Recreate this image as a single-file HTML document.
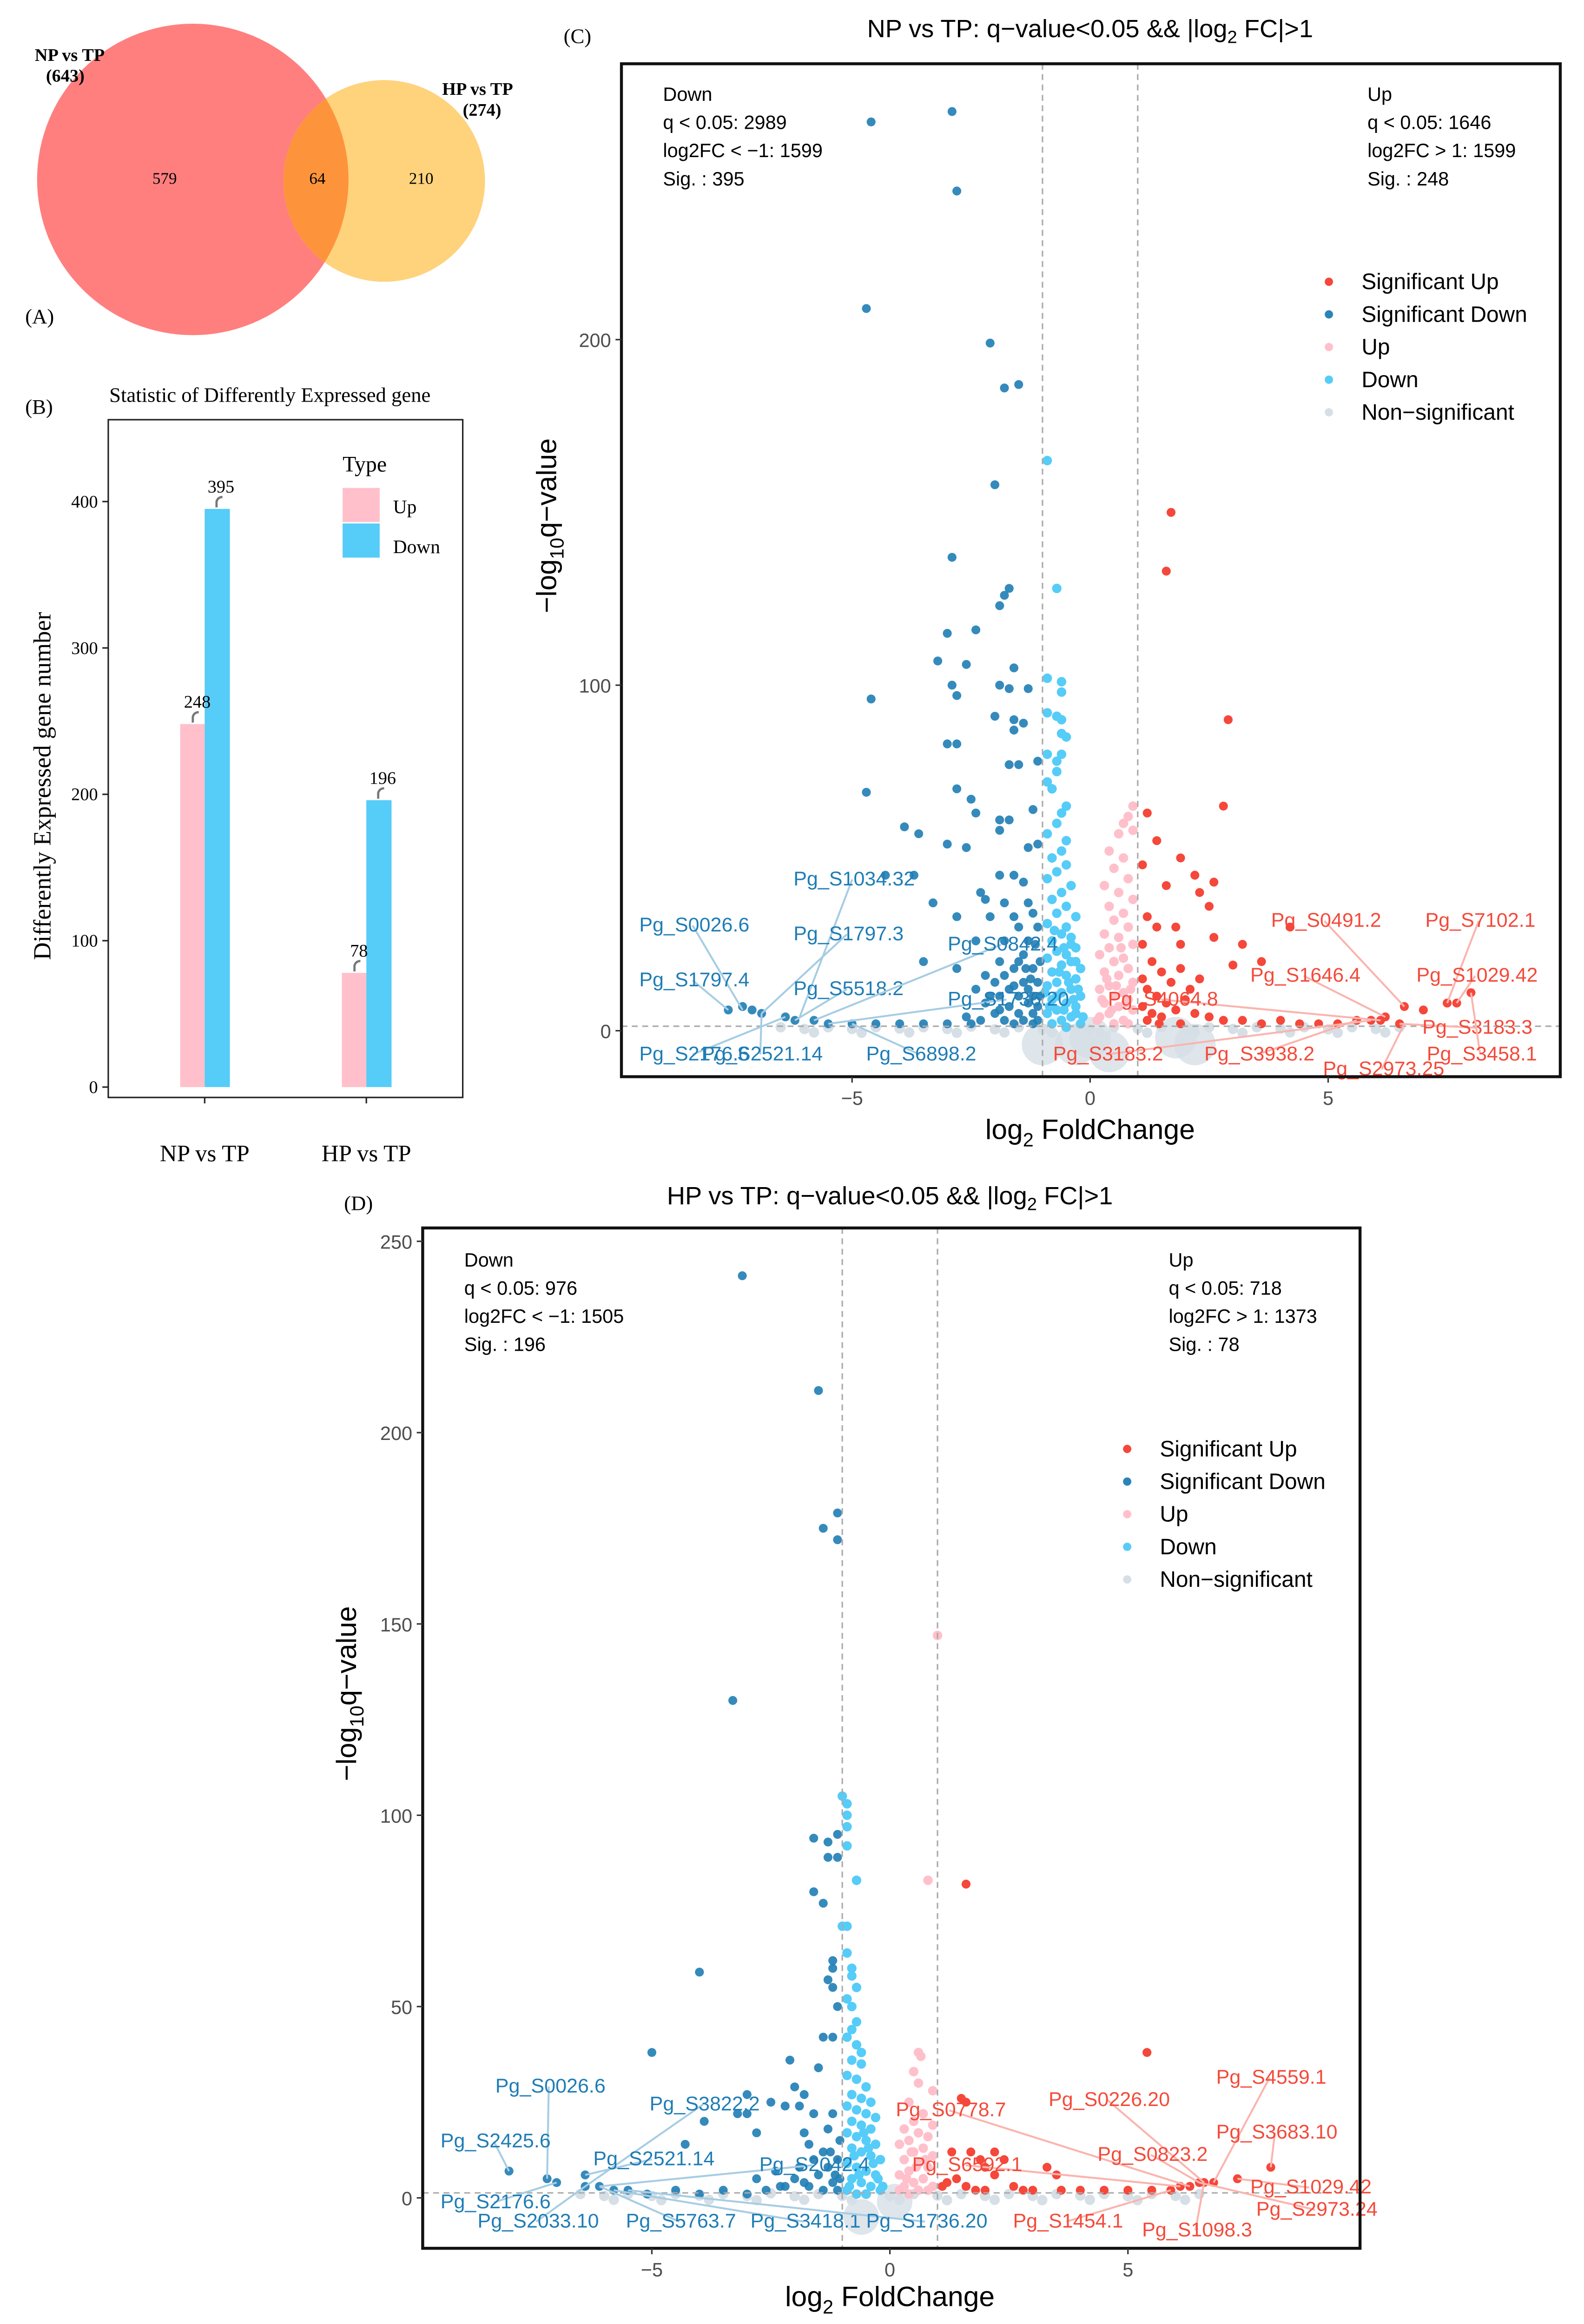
<!DOCTYPE html>
<html><head><meta charset="utf-8"><style>
html,body{margin:0;padding:0;background:#fff;width:3408px;height:5019px;overflow:hidden;position:relative}
svg{display:block;position:absolute;left:0;top:0}
text{font-family:"Liberation Sans",sans-serif}
.serif{font-family:"Liberation Serif",serif}
</style></head><body>
<svg id="fig" xmlns="http://www.w3.org/2000/svg" width="3408" height="5019" viewBox="0 0 1068 1573" preserveAspectRatio="none" overflow="hidden">
<defs>
<clipPath id="clipC"><rect x="419" y="43" width="633" height="683"/></clipPath>
<clipPath id="clipD"><rect x="285" y="828" width="632" height="688"/></clipPath>
<clipPath id="clipRed"><circle cx="130" cy="121" r="105"/></clipPath>
</defs>
<g>
<circle cx="130" cy="121" r="105" fill="#ff7f7f"/>
<circle cx="259" cy="122" r="68" fill="#ffd27c"/>
<circle cx="259" cy="122" r="68" fill="#fd943c" clip-path="url(#clipRed)"/>
<text class="serif" x="47" y="41" font-size="12" font-weight="bold" text-anchor="middle">NP vs TP</text>
<text class="serif" x="44" y="55" font-size="12" font-weight="bold" text-anchor="middle">(643)</text>
<text class="serif" x="322" y="64" font-size="12" font-weight="bold" text-anchor="middle">HP vs TP</text>
<text class="serif" x="325" y="78" font-size="12" font-weight="bold" text-anchor="middle">(274)</text>
<text class="serif" x="111" y="124" font-size="11" text-anchor="middle">579</text>
<text class="serif" x="214" y="124" font-size="11" text-anchor="middle">64</text>
<text class="serif" x="284" y="124" font-size="11" text-anchor="middle">210</text>
<text class="serif" x="17" y="218" font-size="14">(A)</text>
</g>
<g id="barB">
<text class="serif" x="17" y="279" font-size="14">(B)</text>
<text class="serif" x="182" y="271" font-size="14" text-anchor="middle">Statistic of Differently Expressed gene</text>
<rect x="73" y="283" width="239" height="457" fill="none" stroke="#222" stroke-width="1"/>
<text class="serif" transform="translate(34,530) rotate(-90)" font-size="16.5" text-anchor="middle">Differently Expressed gene number</text>
<text class="serif" x="231" y="318" font-size="15">Type</text>
<rect x="231" y="329" width="25" height="23" fill="#ffc0cb"/>
<rect x="231" y="353" width="25" height="23" fill="#56ccf8"/>
<text class="serif" x="265" y="346" font-size="13">Up</text>
<text class="serif" x="265" y="373" font-size="13">Down</text>
</g>
<g id="volC">
<text class="serif" x="380" y="29" font-size="14">(C)</text>
<text x="735" y="25" font-size="17" text-anchor="middle">NP vs TP: q−value&lt;0.05 &amp;&amp; |log<tspan font-size="12" dy="4">2</tspan><tspan dy="-4"> FC|&gt;1</tspan></text>
</g>
<g id="volD">
<text class="serif" x="232" y="816" font-size="14">(D)</text>
<text x="600" y="812" font-size="17" text-anchor="middle">HP vs TP: q−value&lt;0.05 &amp;&amp; |log<tspan font-size="12" dy="4">2</tspan><tspan dy="-4"> FC|&gt;1</tspan></text>
</g>
</svg>
<script>
const barGroups = ["NP vs TP", "HP vs TP"];
const barUp = [248, 78];
const barDown = [395, 196];
const barTicks = [0, 100, 200, 300, 400];

const cSigDown = [[-4.6,263],[-2.9,266],[-2.8,243],[-4.7,209],[-2.1,199],[-1.8,186],[-1.5,187],[-2.0,158],[-2.9,137],[-1.7,128],[-1.8,126],[-1.9,123],[-3.0,115],[-2.4,116],[-3.2,107],[-2.6,106],[-1.6,105],[-4.6,96],[-2.9,100],[-1.9,100],[-1.7,99],[-1.3,99],[-2.8,97],[-2.0,91],[-1.6,90],[-1.4,89],[-3.0,83],[-2.8,83],[-1.6,87],[-1.7,77],[-1.5,77],[-1.1,78],[-2.8,70],[-4.7,69],[-2.5,67],[-2.4,63],[-1.9,61],[-1.7,61],[-1.2,64],[-3.9,59],[-3.6,57],[-3.0,54],[-2.6,53],[-1.9,58],[-1.3,53],[-1.1,54],[-4.3,45],[-3.7,45],[-2.3,40],[-1.9,45],[-1.6,45],[-1.4,43],[-3.3,37],[-2.2,38],[-1.8,37],[-1.3,37],[-2.8,33],[-2.1,33],[-1.6,33],[-1.2,34],[-1.5,30],[-2.4,26],[-1.8,26],[-1.3,26],[-1.9,20],[-1.5,20],[-2.2,16],[-3.5,20],[-2.8,18],[-1.2,18],[-3.3,282],[-2.9,282],[-1.3,282],[-1.1,282],[-7.6,6],[-7.3,7],[-7.1,6],[-6.9,5],[-6.4,4],[-6.2,3],[-5.8,3],[-5.5,2],[-5.0,2],[-4.5,2],[-4.0,2],[-3.5,2],[-3.0,2],[-2.5,2],[-2.4,12],[-2.2,8],[-2.0,14],[-2.0,5],[-1.9,10],[-1.8,3],[-1.8,16],[-1.7,7],[-1.7,12],[-1.6,2],[-1.6,18],[-1.5,5],[-1.5,10],[-1.4,14],[-1.4,3],[-1.4,22],[-1.3,8],[-1.3,12],[-1.2,5],[-1.2,10],[-1.2,2],[-1.1,7],[-1.1,14],[-1.1,3],[-1.05,20],[-1.05,10],[-2.6,4],[-2.3,3],[-2.1,10],[-1.9,6],[-1.6,13],[-1.35,18],[-1.25,15],[-1.15,25],[-1.1,30]];
const cDown = [[-0.9,165],[-0.7,128],[-0.9,102],[-0.6,101],[-0.6,98],[-0.9,92],[-0.7,91],[-0.6,90],[-0.6,86],[-0.5,85],[-0.9,80],[-0.6,80],[-0.7,78],[-0.7,75],[-0.9,72],[-0.8,70],[-0.5,65],[-0.6,63],[-0.7,60],[-0.9,57],[-0.5,55],[-0.6,52],[-0.8,50],[-0.5,48],[-0.7,46],[-0.9,44],[-0.4,42],[-0.6,40],[-0.8,38],[-0.5,36],[-0.7,34],[-0.3,33],[-0.9,31],[-0.5,30],[-0.6,28],[-0.4,27],[-0.8,26],[-0.3,24],[-0.7,23],[-0.5,22],[-0.9,21],[-0.4,20],[-0.6,19],[-0.2,18],[-0.8,17],[-0.5,16],[-0.3,15],[-0.7,14],[-0.9,13],[-0.4,12],[-0.6,11],[-0.2,10],[-0.8,9],[-0.5,8],[-0.3,7],[-0.7,6],[-0.9,5],[-0.4,4],[-0.6,3],[-0.2,2],[-0.8,2],[-0.5,1],[-0.3,5],[-0.7,10],[-0.45,14],[-0.55,24],[-0.35,9],[-0.85,7],[-0.25,12],[-0.65,17],[-0.15,4],[-0.75,29],[-0.4,25],[-0.55,6],[-0.95,11],[-0.3,20]];
const cUp = [[0.9,65],[0.8,62],[0.7,60],[0.9,58],[0.6,57],[0.4,52],[0.7,50],[0.5,47],[0.8,44],[0.3,42],[0.6,40],[0.9,38],[0.4,36],[0.7,34],[0.5,32],[0.8,30],[0.3,28],[0.6,27],[0.9,25],[0.4,24],[0.2,22],[0.7,21],[0.5,20],[0.8,18],[0.3,17],[0.6,16],[0.9,14],[0.4,13],[0.2,12],[0.7,11],[0.5,10],[0.8,9],[0.3,8],[0.6,7],[0.9,6],[0.4,5],[0.2,4],[0.7,3],[0.5,2],[0.8,2],[0.35,15],[0.65,24],[0.55,13],[0.45,6],[0.75,8],[0.25,9],[0.85,12],[0.15,3]];
const cSigUp = [[1.7,150],[1.6,133],[2.9,90],[2.8,65],[1.2,63],[1.4,55],[1.9,50],[1.1,48],[2.2,45],[2.6,43],[1.6,42],[2.3,40],[2.5,36],[1.2,33],[1.4,30],[1.8,30],[2.6,27],[1.1,25],[1.9,25],[3.2,25],[3.6,20],[4.2,30],[3.0,19],[2.3,15],[1.3,20],[1.5,17],[1.7,14],[1.2,12],[1.4,10],[1.6,8],[1.1,7],[1.3,5],[1.5,4],[1.8,6],[2.0,9],[2.2,5],[2.5,4],[2.8,3],[3.2,3],[3.6,2],[4.0,3],[4.4,2],[4.8,2],[5.2,2],[5.6,3],[5.9,3],[6.1,3],[6.2,4],[6.5,2],[6.6,7],[7.0,6],[7.5,8],[7.7,8],[8.0,11],[1.1,15],[1.9,18],[1.2,3],[1.45,2],[1.9,2],[2.1,12]];
const cNS = [[-6.5,1],[-6,0.5],[-5.5,1],[-5,0.5],[-4.5,1],[-4,0.6],[-3.5,1],[-3,0.5],[-2.5,1.2],[-2,0.4],[-1.5,1],[-1,0.5],[-0.5,1],[0,0.4],[0.5,1],[1,0.6],[1.5,1],[2,0.5],[2.5,1],[3,0.5],[3.5,1],[4,0.6],[4.5,1],[5,0.4],[5.5,1],[6,0.5],[6.5,1],[-5.8,-0.5],[-4.8,-0.6],[-3.8,-0.5],[-2.8,-0.6],[-1.8,-0.5],[-0.8,-0.6],[0.2,-0.5],[1.2,-0.6],[2.2,-0.5],[3.2,-0.6],[4.2,-0.5],[5.2,-0.6],[6.2,-0.5]];
const cBig = [[-1.0,-4],[-0.3,-4],[0.4,-6],[2.2,-4],[0.0,-2],[1.8,-2]];
const cXTicks = [-5, 0, 5];
const cYTicks = [0, 100, 200];
const cLabels = [
 ["Pg_S1034.32",535,597,-6.1,4,"d"],["Pg_S0026.6",431,628,-7.3,6,"d"],["Pg_S1797.3",535,634,-6.9,5,"d"],
 ["Pg_S1797.4",431,665,-7.6,6,"d"],["Pg_S5518.2",535,671,-6.2,3,"d"],["Pg_S0842.4",639,641,-5.8,3,"d"],
 ["Pg_S1736.20",639,678,-5.5,2,"d"],["Pg_S2176.6",431,715,-6.4,4,"d"],["Pg_S2521.14",473,715,-6.9,5,"d"],
 ["Pg_S6898.2",584,715,-5.0,2,"d"],
 ["Pg_S0491.2",857,625,6.6,7,"u"],["Pg_S7102.1",961,625,7.5,8,"u"],["Pg_S1646.4",843,662,6.2,4,"u"],
 ["Pg_S1029.42",955,662,7.7,8,"u"],["Pg_S4064.8",747,678,6.1,3,"u"],["Pg_S3183.3",959,697,6.5,2,"u"],
 ["Pg_S3183.2",710,715,5.9,3,"u"],["Pg_S3938.2",812,715,5.6,3,"u"],["Pg_S3458.1",962,715,8.0,11,"u"],
 ["Pg_S2973.25",892,725,6.6,2,"u"]];

const dSigDown = [[-3.1,241],[-1.5,211],[-1.4,175],[-1.1,179],[-1.1,172],[-3.3,130],[-4.0,59],[-1.6,94],[-1.3,93],[-1.3,89],[-1.1,95],[-1.1,89],[-1.6,80],[-1.4,77],[-1.2,62],[-1.2,60],[-1.3,57],[-1.2,55],[-1.1,50],[-5.0,38],[-2.1,36],[-1.4,42],[-1.2,42],[-1.5,34],[-2.0,29],[-1.8,27],[-3.0,27],[-2.5,25],[-2.2,24],[-1.9,24],[-1.6,22],[-1.2,22],[-3.2,22],[-3.0,22],[-3.9,20],[-2.8,17],[-1.8,17],[-1.3,18],[-4.3,14],[-1.7,14],[-1.4,12],[-8.0,7],[-7.2,5],[-7.0,4],[-6.4,6],[-6.4,3],[-6.1,3],[-5.8,2],[-5.5,2],[-5.1,1],[-4.5,2],[-4.0,1],[-3.5,2],[-3.0,1],[-2.6,2],[-2.3,3],[-2.0,5],[-1.9,8],[-1.7,3],[-1.6,10],[-1.5,6],[-1.4,2],[-1.3,8],[-1.25,12],[-1.2,4],[-1.15,6],[-1.1,10],[-1.1,2],[-1.05,15],[-1.05,5],[-2.8,5],[-2.4,7],[-2.2,3],[-1.8,4]];
const dDown = [[-1.0,105],[-0.9,103],[-0.9,100],[-0.9,97],[-0.9,92],[-0.7,83],[-1.0,71],[-0.9,71],[-0.9,64],[-0.8,60],[-0.8,58],[-0.7,55],[-0.9,52],[-0.8,50],[-0.7,46],[-0.8,44],[-0.9,42],[-0.7,40],[-0.6,38],[-0.8,36],[-0.6,35],[-0.9,32],[-0.7,31],[-0.5,29],[-0.8,27],[-0.6,26],[-0.4,25],[-0.9,24],[-0.7,23],[-0.5,22],[-0.3,21],[-0.8,20],[-0.6,19],[-0.4,18],[-0.9,17],[-0.7,16],[-0.5,15],[-0.3,14],[-0.8,13],[-0.6,12],[-0.4,11],[-0.2,10],[-0.9,9],[-0.7,8],[-0.5,7],[-0.3,6],[-0.8,5],[-0.6,4],[-0.4,3],[-0.2,2],[-0.9,2],[-0.7,1],[-0.5,1],[-0.35,9],[-0.55,17],[-0.65,6],[-0.45,13],[-0.25,5],[-0.75,11],[-0.85,3],[-0.15,3]];
const dUp = [[1.0,147],[0.8,83],[0.6,38],[0.65,37],[0.5,33],[0.6,30],[0.9,28],[0.4,25],[0.7,22],[0.5,20],[0.9,19],[0.3,18],[0.6,17],[0.8,16],[0.4,15],[0.2,14],[0.7,13],[0.5,12],[0.9,11],[0.3,10],[0.6,9],[0.8,8],[0.4,7],[0.2,6],[0.7,5],[0.5,4],[0.9,3],[0.3,3],[0.6,2],[0.8,2],[0.4,1],[0.2,2],[0.55,8],[0.75,10],[0.35,5],[0.45,12]];
const dSigUp = [[1.6,82],[5.4,38],[1.5,26],[1.6,25],[2.2,12],[1.7,12],[1.3,12],[2.4,10],[2.2,6],[3.3,8],[3.5,6],[2.0,8],[1.9,10],[1.4,5],[1.2,4],[1.6,3],[2.0,2],[2.6,3],[3.0,2],[3.6,2],[4.0,2],[4.5,2],[5.0,2],[5.5,2],[5.9,2],[6.1,3],[6.3,3],[6.5,4],[6.6,4],[6.8,4],[7.3,5],[8.0,8],[1.1,3],[1.8,2],[2.8,2]];
const dNS = [[-6.5,1],[-6,0.5],[-5.5,1],[-5,0.5],[-4.5,1],[-4,0.6],[-3.5,1],[-3,0.5],[-2.5,1.2],[-2,0.4],[-1.5,1],[-1,0.5],[-0.5,1],[0,0.4],[0.5,1],[1,0.6],[1.5,1],[2,0.5],[2.5,1],[3,0.5],[3.5,1],[4,0.6],[4.5,1],[5,0.4],[5.5,1],[6,0.5],[6.5,1],[-5.8,-0.5],[-4.8,-0.6],[-3.8,-0.5],[-2.8,-0.6],[-1.8,-0.5],[-0.8,-0.6],[0.2,-0.5],[1.2,-0.6],[2.2,-0.5],[3.2,-0.6],[4.2,-0.5],[5.2,-0.6],[6.2,-0.5]];
const dBig = [[-0.6,-5],[0.1,-1]];
const dXTicks = [-5, 0, 5];
const dYTicks = [0, 50, 100, 150, 200, 250];
const dLabels = [
 ["Pg_S0026.6",334,1411,-7.2,5,"d"],["Pg_S3822.2",438,1423,-6.4,3,"d"],["Pg_S2425.6",297,1448,-8.0,7,"d"],
 ["Pg_S2521.14",400,1460,-6.4,6,"d"],["Pg_S2042.4",512,1464,-6.1,3,"d"],["Pg_S2176.6",297,1489,-7.0,4,"d"],
 ["Pg_S2033.10",322,1502,-6.4,3,"d"],["Pg_S5763.7",422,1502,-6.1,3,"d"],["Pg_S3418.1",506,1502,-5.8,2,"d"],
 ["Pg_S1736.20",584,1502,-5.5,2,"d"],
 ["Pg_S4559.1",820,1405,6.8,4,"u"],["Pg_S0778.7",604,1427,6.3,3,"u"],["Pg_S0226.20",707,1420,6.6,4,"u"],
 ["Pg_S3683.10",820,1442,8.0,8,"u"],["Pg_S0823.2",740,1457,6.5,4,"u"],["Pg_S6592.1",615,1464,6.1,3,"u"],
 ["Pg_S1029.42",843,1479,7.3,5,"u"],["Pg_S2973.24",847,1494,6.5,4,"u"],["Pg_S1454.1",683,1502,5.9,2,"u"],
 ["Pg_S1098.3",770,1508,6.6,4,"u"]];

const NS = "http://www.w3.org/2000/svg";
function mk(parent, tag, attrs, txt){
  const e = document.createElementNS(NS, tag);
  for (const k in attrs) e.setAttribute(k, attrs[k]);
  if (txt !== undefined) e.textContent = txt;
  parent.appendChild(e);
  return e;
}

(function(){
  const g = document.getElementById('barB');
  const y = v => 733 - v * 0.987;
  const xc = [138, 247];
  barTicks.forEach(t => {
    mk(g, 'line', {x1:69, x2:73, y1:y(t), y2:y(t), stroke:'#222'});
    const tl = mk(g, 'text', {x:66, y:y(t)+4, 'font-size':12, 'text-anchor':'end', class:'serif'}, t);
    
    
  });
  barGroups.forEach((name, i) => {
    const up = mk(g, 'rect', {x:xc[i]-16.5, y:y(barUp[i]), width:16.5, height:733-y(barUp[i]), fill:'#ffc0cb'});
    
    
    const dn = mk(g, 'rect', {x:xc[i], y:y(barDown[i]), width:17, height:733-y(barDown[i]), fill:'#56ccf8'});
    
    
    mk(g, 'path', {d:`M${xc[i]-8},${y(barUp[i])-1} v-4 q1,-3 4,-3`, fill:'none', stroke:'#777', 'stroke-width':1.5});
    mk(g, 'path', {d:`M${xc[i]+8},${y(barDown[i])-1} v-4 q1,-3 4,-3`, fill:'none', stroke:'#777', 'stroke-width':1.5});
    const ul = mk(g, 'text', {x:xc[i]-5, y:y(barUp[i])-11, 'font-size':12, 'text-anchor':'middle', class:'serif'}, barUp[i]);
    
    
    const dl = mk(g, 'text', {x:xc[i]+11, y:y(barDown[i])-11, 'font-size':12, 'text-anchor':'middle', class:'serif'}, barDown[i]);
    
    
    mk(g, 'line', {x1:xc[i], x2:xc[i], y1:740, y2:744, stroke:'#222'});
    const xl = mk(g, 'text', {x:xc[i], y:783, 'font-size':16, 'text-anchor':'middle', class:'serif'}, name);
    
    
  });
})();

function volcano(gid, clip, box, x0, xs, y0, ys, sets, xticks, yticks, labels, ann, legY, legX, xlabY, ylabX){
  const g = document.getElementById(gid);
  const X = v => x0 + xs * v, Y = v => y0 - ys * v;
  const pts = mk(g, 'g', {'clip-path':`url(#${clip})`});
  sets.forEach(s => {
    s.data.forEach(p => {
      const c = mk(pts, 'circle', {cx:X(p[0]), cy:Y(p[1]), r:s.r, fill:s.col, 'fill-opacity':s.op});
      
      
    });
  });
  mk(g, 'line', {x1:X(-1), x2:X(-1), y1:box[1], y2:box[1]+box[3], stroke:'#aaa', 'stroke-dasharray':'4,3'});
  mk(g, 'line', {x1:X(1), x2:X(1), y1:box[1], y2:box[1]+box[3], stroke:'#aaa', 'stroke-dasharray':'4,3'});
  mk(g, 'line', {x1:box[0], x2:box[0]+box[2], y1:Y(1.3), y2:Y(1.3), stroke:'#aaa', 'stroke-dasharray':'4,3'});
  labels.forEach(l => {
    const col = l[5] === 'd' ? '#1f7db5' : '#f44a3a';
    const lc = l[5] === 'd' ? '#a6cde3' : '#fbb4ae';
    const w = l[0].length * 7.2;
    const ax = l[1] + w/2;
    mk(g, 'line', {x1:ax, y1:l[2]-4, x2:X(l[3]), y2:Y(l[4]), stroke:lc, 'stroke-width':1.3});
    const t = mk(g, 'text', {x:l[1], y:l[2], 'font-size':13.5, fill:col}, l[0]);
    
    
  });
  const fr = mk(g, 'rect', {x:box[0], y:box[1], width:box[2], height:box[3], fill:'none', stroke:'#111', 'stroke-width':2});
  
  
  xticks.forEach(t => {
    mk(g, 'line', {x1:X(t), x2:X(t), y1:box[1]+box[3], y2:box[1]+box[3]+4, stroke:'#333'});
    const tl = mk(g, 'text', {x:X(t), y:box[1]+box[3]+19, 'font-size':13, fill:'#4d4d4d', 'text-anchor':'middle'}, t < 0 ? '−' + (-t) : t);
    
    
  });
  yticks.forEach(t => {
    mk(g, 'line', {x1:box[0]-4, x2:box[0], y1:Y(t), y2:Y(t), stroke:'#333'});
    const tl = mk(g, 'text', {x:box[0]-7, y:Y(t)+5, 'font-size':13, fill:'#4d4d4d', 'text-anchor':'end'}, t);
    
    
  });
  const xt = mk(g, 'text', {x:X(0), y:xlabY, 'font-size':19, 'text-anchor':'middle'});
  xt.innerHTML = 'log<tspan font-size="13" dy="5">2</tspan><tspan dy="-5"> FoldChange</tspan>';
  
  
  const cy = box[1] + box[3]/2 - 30;
  const yt = mk(g, 'text', {transform:`translate(${ylabX},${cy}) rotate(-90)`, 'font-size':19, 'text-anchor':'middle'});
  yt.innerHTML = '−log<tspan font-size="13" dy="5">10</tspan><tspan dy="-5">q−value</tspan>';
  
  
  ann.forEach(a => {
    a.lines.forEach((s, i) => {
      const t = mk(g, 'text', {x:a.x, y:a.y + i*19, 'font-size':13}, s);
      
      
    });
  });
  const leg = [['Significant Up','#f5473a'],['Significant Down','#2b84b8'],['Up','#ffc0cb'],['Down','#56ccf8'],['Non−significant','#d6dfe6']];
  leg.forEach((l, i) => {
    const c = mk(g, 'circle', {cx:legX, cy:legY + i*22, r:2.8, fill:l[1]});
    
    
    const t = mk(g, 'text', {x:legX+22, y:legY + i*22 + 5, 'font-size':15}, l[0]);
    
    
  });
}

volcano('volC', 'clipC', [419,43,633,683], 735, 32.1, 695, 2.33, [
  {data:cBig, col:'#d6dfe6', r:14, op:0.8, name:'point-nonsig-cluster'},
  {data:cNS, col:'#d6dfe6', r:3.5, op:1, name:'point-nonsig'},
  {data:cDown, col:'#56ccf8', r:3.2, op:1, name:'point-down'},
  {data:cUp, col:'#ffc0cb', r:3.2, op:1, name:'point-up'},
  {data:cSigDown, col:'#1f7db5', r:3.0, op:0.9, name:'point-sig-down'},
  {data:cSigUp, col:'#f5473a', r:3.0, op:1, name:'point-sig-up'}
], cXTicks, cYTicks, cLabels,
 [{x:447, y:68, lines:['Down','q < 0.05: 2989','log2FC < −1: 1599','Sig. : 395']},
  {x:922, y:68, lines:['Up','q < 0.05: 1646','log2FC > 1: 1599','Sig. : 248']}],
 190, 896, 768, 375);

volcano('volD', 'clipD', [285,828,632,688], 600, 32.1, 1482, 2.58, [
  {data:dBig, col:'#d6dfe6', r:12, op:0.8, name:'point-nonsig-cluster'},
  {data:dNS, col:'#d6dfe6', r:3.5, op:1, name:'point-nonsig'},
  {data:dDown, col:'#56ccf8', r:3.2, op:1, name:'point-down'},
  {data:dUp, col:'#ffc0cb', r:3.2, op:1, name:'point-up'},
  {data:dSigDown, col:'#1f7db5', r:3.0, op:0.9, name:'point-sig-down'},
  {data:dSigUp, col:'#f5473a', r:3.0, op:1, name:'point-sig-up'}
], dXTicks, dYTicks, dLabels,
 [{x:313, y:854, lines:['Down','q < 0.05: 976','log2FC < −1: 1505','Sig. : 196']},
  {x:788, y:854, lines:['Up','q < 0.05: 718','log2FC > 1: 1373','Sig. : 78']}],
 977, 760, 1555, 240);
</script>
</body></html>
